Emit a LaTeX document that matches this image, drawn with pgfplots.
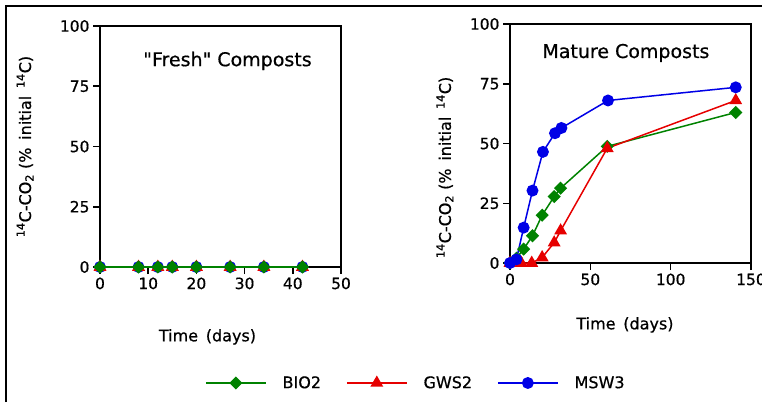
\documentclass[border=0pt]{standalone}
\usepackage{fontspec}
\setmainfont{DejaVu Sans}[FakeBold=0.6]
\newfontfamily\plainfont{DejaVu Sans}[FakeBold=0.6]
\usepackage{pgfplots}
\pgfplotsset{compat=1.18}
\definecolor{cgreen}{RGB}{0,130,0}
\definecolor{cred}{RGB}{230,0,0}
\definecolor{cblue}{RGB}{0,0,230}
\pgfplotsset{
  base/.style={
    scale only axis, width=241pt,
    font=\fontsize{15.5}{18}\selectfont,
    /pgf/number format/assume math mode=true,
    axis line style={line width=1.5pt},
    every tick/.style={line width=1.5pt, black},
    tick align=outside, major tick length=7pt,
    xtick pos=left, ytick pos=left,
    ymin=0, ymax=100, ytick={0,25,50,75,100},
    xmin=0, clip=false,
    label style={font=\fontsize{16}{19}\selectfont},
    ylabel={\textsuperscript{14}C-CO\textsubscript{2} (\%\ \,initial \,\textsuperscript{14}C)},
    xlabel={Time \,(days)},
  },
  sBIO/.style={color=cgreen, line width=1.5pt, mark=square*, mark size=3.9pt, mark options={rotate=45, solid}},
  sGWS/.style={color=cred, line width=1.5pt, mark=triangle*, mark size=6pt, mark options={solid}},
  sMSW/.style={color=cblue, line width=1.5pt, mark=*, mark size=5.2pt, mark options={solid}},
}
\begin{document}
\begin{tikzpicture}[x=1pt,y=1pt]
\useasboundingbox (0,0) rectangle (762,402);
\draw[line width=2pt] (5.5,0) -- (5.5,396) -- (762,396);

% Fresh composts
\begin{axis}[base, at={(100pt,135pt)}, anchor=south west, height=241pt,
  xmax=50, xtick={0,10,20,30,40,50},
  ylabel style={at={(axis description cs:-0.311,0.5)}, anchor=center, rotate=0},
  xlabel style={at={(axis description cs:0.446,-0.29)}, anchor=center},
]
\addplot[sMSW] coordinates {(0,0) (8,0) (12,0) (15,0) (20,0) (27,0) (34,0) (42,0)};
\addplot[sGWS] coordinates {(0,0) (8,0) (12,0) (15,0) (20,0) (27,0) (34,0) (42,0)};
\addplot[sBIO] coordinates {(0,0) (8,0) (12,0) (15,0) (20,0) (27,0) (34,0) (42,0)};
\node[font=\fontsize{19}{22}\plainfont] at (axis description cs:0.529,0.855) {"Fresh" Composts};
\end{axis}

% Mature composts
\begin{axis}[base, at={(510pt,139pt)}, anchor=south west, height=239pt,
  xmax=150, xtick={0,50,100,150},
  ylabel style={at={(axis description cs:-0.27,0.40)}, anchor=center, rotate=0},
  xlabel style={at={(axis description cs:0.477,-0.259)}, anchor=center},
  legend columns=3,
  legend style={at={(axis description cs:-1.266,-0.502)}, anchor=west, draw=none, fill=none,
    inner sep=0pt, font=\fontsize{16}{19}\selectfont,
    /tikz/every odd column/.append style={column sep=14pt},
    /tikz/every even column/.append style={column sep=23pt}},
  legend image code/.code={\draw[mark repeat=2,mark phase=2,#1] plot coordinates {(0pt,0pt) (30pt,0pt) (60pt,0pt)};},
]
\addplot[sBIO] coordinates {(0,0) (4,2) (8.5,5.8) (14,11.4) (20,20) (27.5,27.8) (31.5,31.3) (60.5,48.8) (140.5,63)};
\addlegendentry{BIO2}
\addplot[sGWS] coordinates {(0,0) (7,0) (13.5,0) (20,2.3) (27.5,8.5) (31.5,13.5) (60.5,48) (140.5,68)};
\addlegendentry{GWS2}
\addplot[sMSW] coordinates {(0,0) (4,1.5) (8.5,14.8) (14,30.3) (20.5,46.5) (28,54.3) (32,56.5) (61,68) (140.5,73.5)};
\addlegendentry{MSW3}
\node[font=\fontsize{19}{22}\selectfont] at (axis description cs:0.481,0.879) {Mature Composts};
\end{axis}
\end{tikzpicture}
\end{document}
